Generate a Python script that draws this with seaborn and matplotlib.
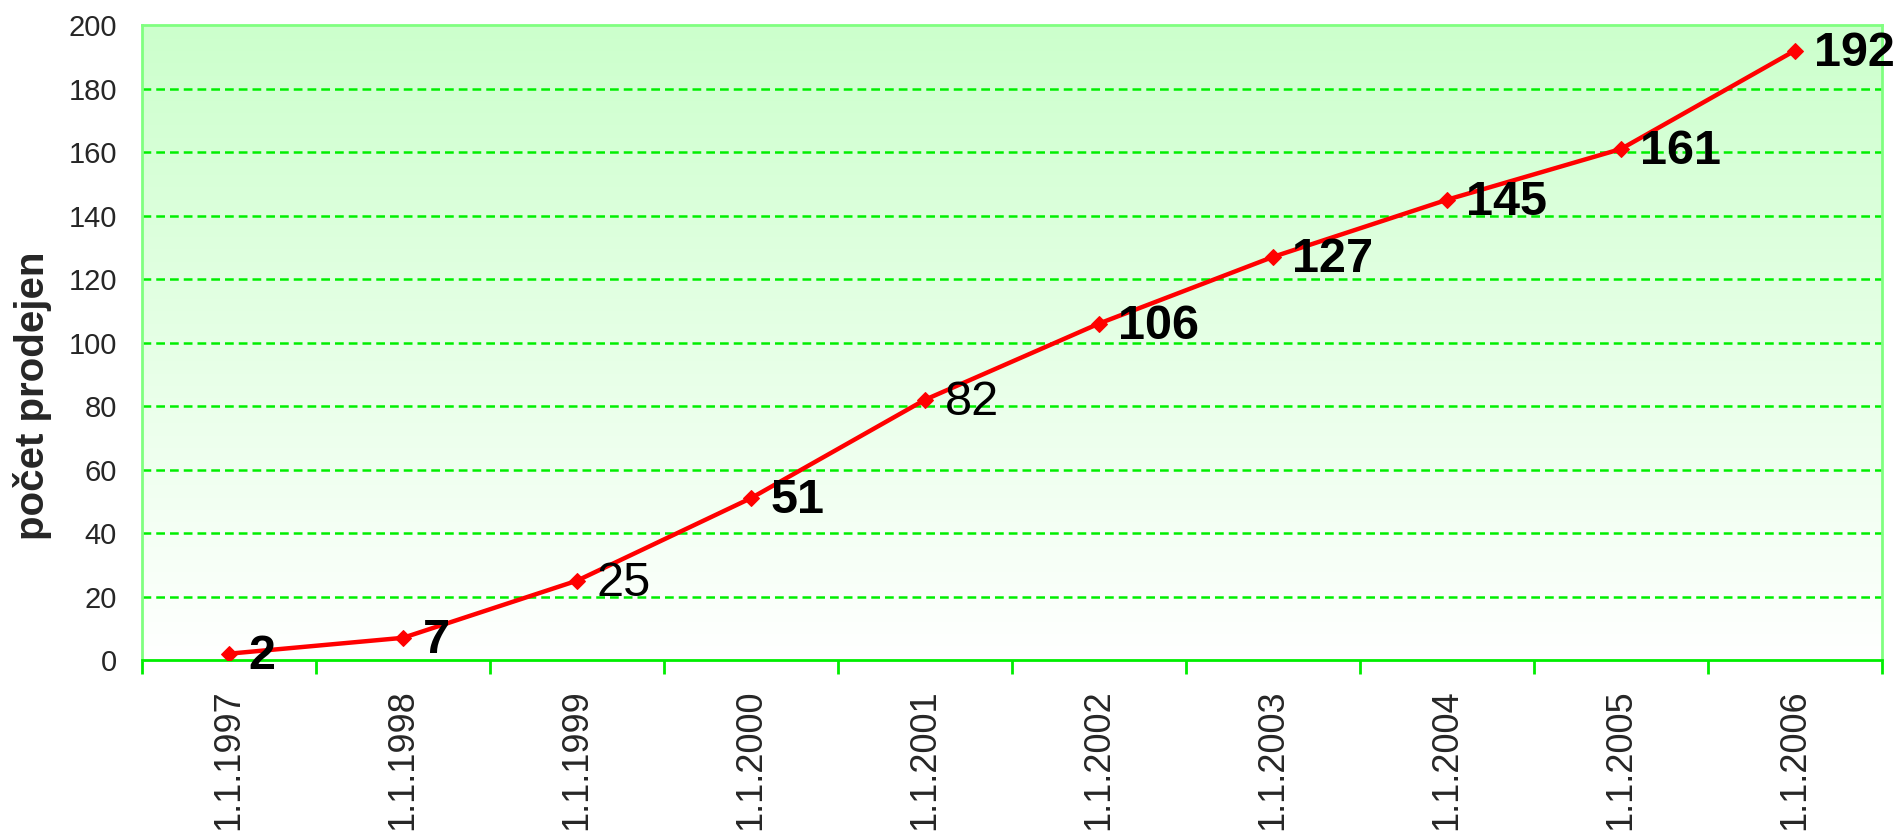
import numpy as np
import pandas as pd
import matplotlib
matplotlib.use("Agg")
import matplotlib.pyplot as plt
import seaborn as sns
from matplotlib.colors import LinearSegmentedColormap

dates = ["1.1.1997", "1.1.1998", "1.1.1999", "1.1.2000", "1.1.2001",
         "1.1.2002", "1.1.2003", "1.1.2004", "1.1.2005", "1.1.2006"]
counts = [2, 7, 25, 51, 82, 106, 127, 145, 161, 192]
label_weights = ["bold", "bold", "normal", "bold", "normal",
                 "bold", "bold", "bold", "bold", "bold"]
y_ticks = [0, 20, 40, 60, 80, 100, 120, 140, 160, 180, 200]
y_label = "počet prodejen"

sns.set_style("white")
plt.rcParams["font.family"] = ["Liberation Sans", "DejaVu Sans"]

df = pd.DataFrame({"pos": np.arange(len(dates)), "count": counts, "date": dates})

fig = plt.figure(figsize=(19.01, 8.39), dpi=100)
ax = fig.add_axes([0.0747, 0.2133, 0.9153, 0.7567])

# gradient background
cmap = LinearSegmentedColormap.from_list("bg", ["#ffffff", "#ccffcc"])
grad = np.linspace(0, 1, 256).reshape(-1, 1)
ax.imshow(grad, cmap=cmap, aspect="auto", extent=[0, 1, 0, 1],
          transform=ax.transAxes, origin="lower", zorder=0)

for yv in y_ticks[1:-1]:
    ax.axhline(yv, color="#00ee00", lw=1.8, dashes=(3.5, 2), zorder=1)

sns.lineplot(data=df, x="pos", y="count", ax=ax, color="#ff0000", lw=3.2,
             marker="D", markersize=8, markeredgecolor="#ff0000", zorder=3)

for p, v, w in zip(df["pos"], df["count"], label_weights):
    ax.annotate(str(v), (p, v), xytext=(14, -2), textcoords="offset points",
                ha="left", va="center", fontsize=35, fontweight=w,
                color="black", zorder=4, annotation_clip=False)

ax.set_xlim(-0.5, len(dates) - 0.5)
ax.set_ylim(0, 200)
ax.set_yticks(y_ticks)
ax.set_yticklabels([str(t) for t in y_ticks], fontsize=21)
ax.tick_params(axis="y", length=0, pad=18)

ax.set_xticks(df["pos"])
ax.set_xticklabels(dates, rotation=90, fontsize=26, va="top")
ax.set_xticks(np.arange(-0.5, len(dates)), minor=True)
ax.tick_params(axis="x", which="major", length=0, pad=21)
ax.tick_params(axis="x", which="minor", length=10, width=2, color="#00ee00",
               direction="out", bottom=True)

ax.set_xlabel("")
ax.set_ylabel(y_label, fontsize=29, fontweight="bold")
ax.yaxis.set_label_coords(-0.052, 0.416)

for side in ["top", "left", "right"]:
    ax.spines[side].set_color("#80ff80")
    ax.spines[side].set_linewidth(2)
ax.spines["bottom"].set_color("#00ee00")
ax.spines["bottom"].set_linewidth(2)

fig.savefig("out.png", dpi=100)
